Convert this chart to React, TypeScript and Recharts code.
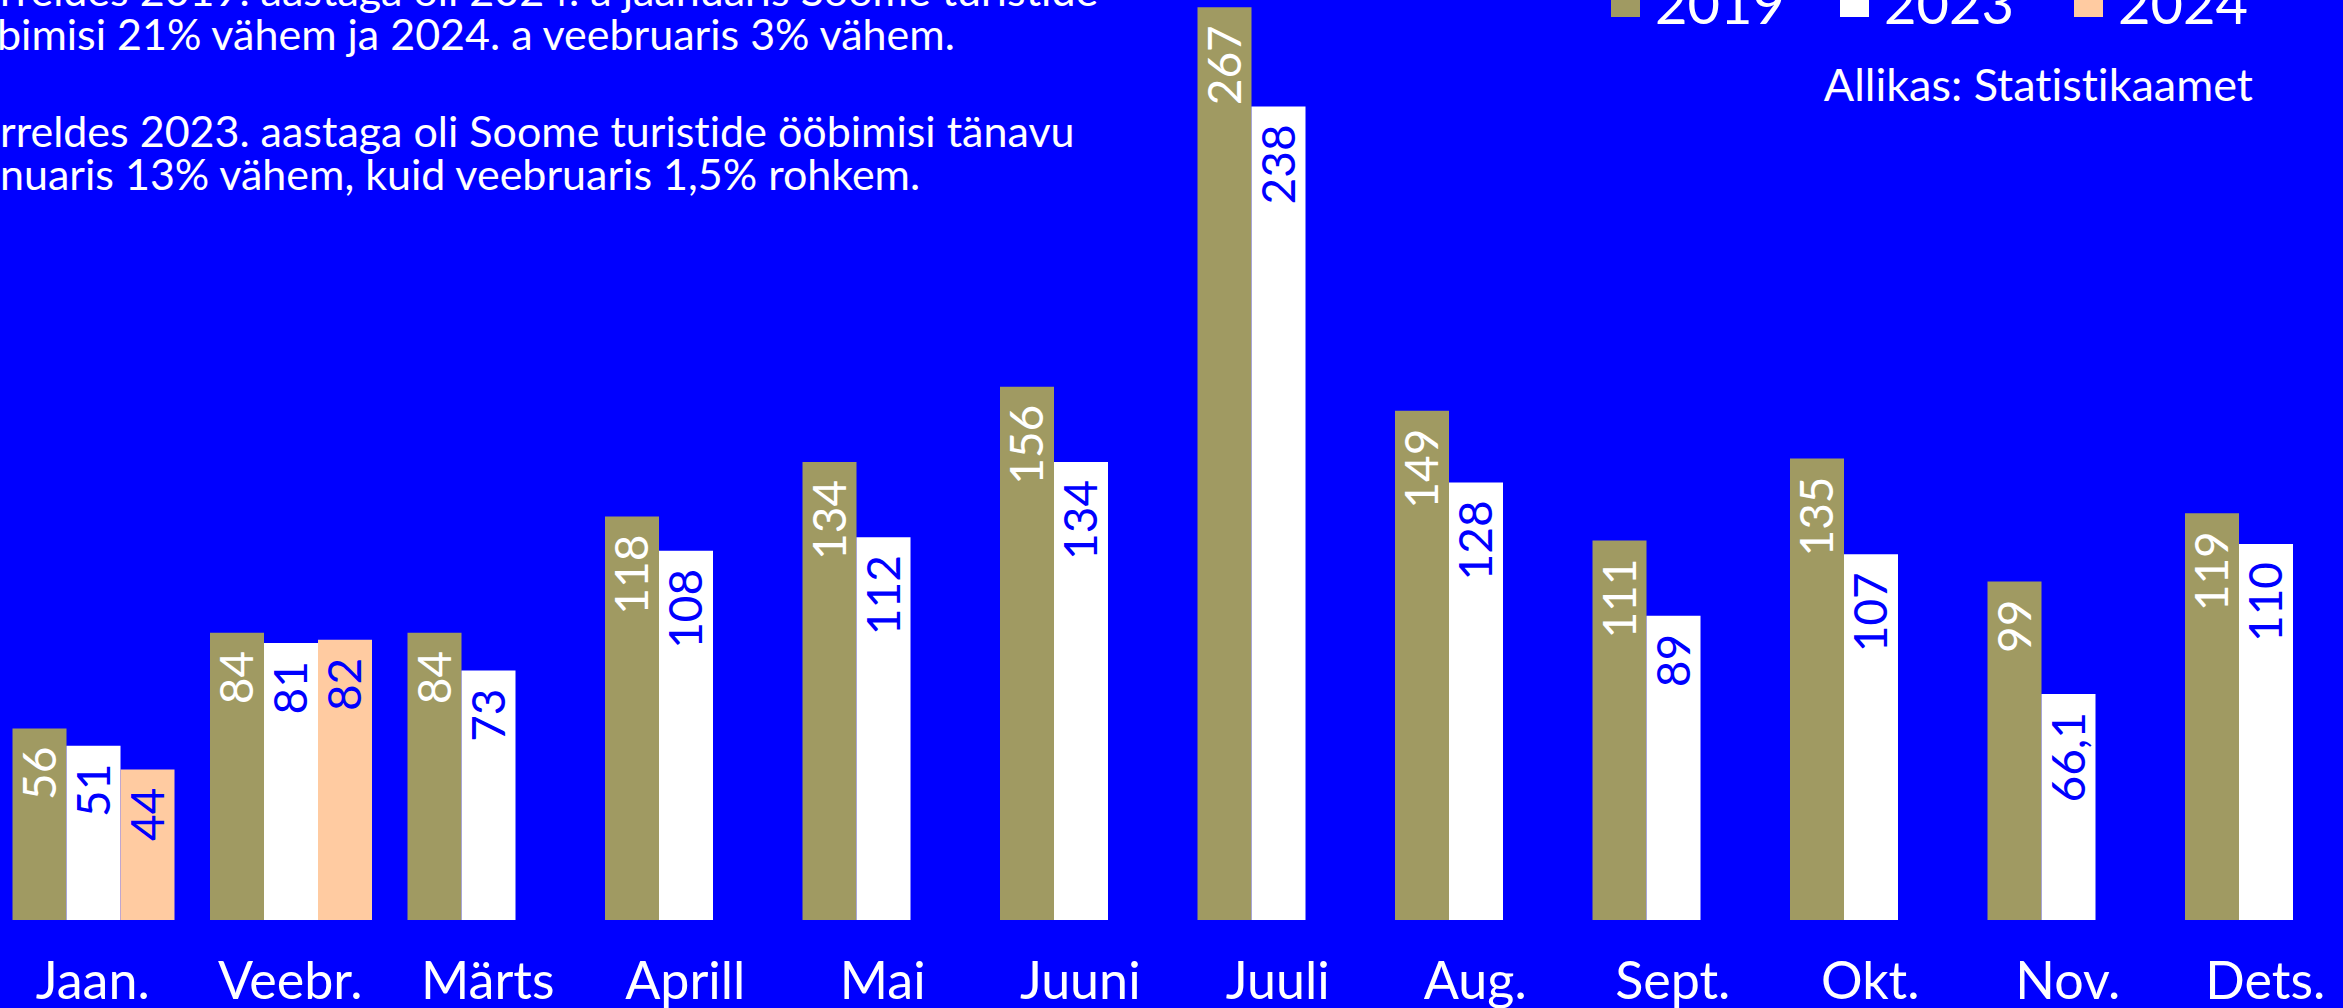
import { BarChart, Bar, XAxis, YAxis, LabelList, Legend } from 'recharts';

const MONTHS = ['Jaan.', 'Veebr.', 'Märts', 'Aprill', 'Mai', 'Juuni', 'Juuli', 'Aug.', 'Sept.', 'Okt.', 'Nov.', 'Dets.'];
const NIGHTS_2019 = [56, 84, 84, 118, 134, 156, 267, 149, 111, 135, 99, 119];
const NIGHTS_2023 = [51, 81, 73, 108, 112, 134, 238, 128, 89, 107, 66.1, 110];
const NIGHTS_2024 = [44, 82, null, null, null, null, null, null, null, null, null, null];

const SERIES = [
  { key: 'y2019', name: '2019', color: '#a09a62', labelColor: '#ffffff' },
  { key: 'y2023', name: '2023', color: '#ffffff', labelColor: '#0000ff' },
  { key: 'y2024', name: '2024', color: '#ffcba1', labelColor: '#0000ff' },
];

const NOTE_LINES = [
  'rreldes 2019. aastaga oli 2024. a jaanuaris Soome turistide',
  'bimisi 21% vähem ja 2024. a veebruaris 3% vähem.',
  'rreldes 2023. aastaga oli Soome turistide ööbimisi tänavu',
  'nuaris 13% vähem, kuid veebruaris 1,5% rohkem.',
];
const SOURCE = 'Allikas: Statistikaamet';

const data = MONTHS.map((m, i) => ({
  month: m,
  y2019: NIGHTS_2019[i],
  y2023: NIGHTS_2023[i],
  y2024: NIGHTS_2024[i],
}));

const FONT = 'Lato, "Open Sans", sans-serif';
const BG = '#0000ff';
const CHART_LEFT = -6.5;
const CHART_TOP = -3;

// layout of the text overlay (page coords)
const NOTE_Y = [6, 50, 147, 190];
const NOTE_X = [0, -3, 0, 0];
const LEGEND_X = [1611, 1840, 2074];

const fmt = (v: number) => String(v).replace('.', ',');

const makeLabel = (color: string) => (props: any) => {
  const { x, y, width, value } = props;
  if (value == null) return null;
  const cx = Number(x) + Number(width) / 2;
  const top = Number(y) + 18;
  return (
    <text
      transform={`translate(${cx},${top}) rotate(-90)`}
      x={0}
      y={16}
      textAnchor="end"
      fill={color}
      fontSize={46}
      fontFamily={FONT}
    >
      {fmt(value)}
    </text>
  );
};

const MonthTick = (props: any) => {
  const { x, y, payload } = props;
  return (
    <text x={x} y={y + 79} textAnchor="middle" fill="#ffffff" fontSize={52} fontFamily={FONT}>
      {payload.value}
    </text>
  );
};

const LegendContent = (props: any) => {
  const items = props.payload || [];
  return (
    <div style={{ position: 'absolute', left: 0, top: 0, width: 0, height: 0 }}>
      {items.map((item: any, i: number) => (
        <div
          key={item.value}
          style={{
            position: 'absolute',
            left: LEGEND_X[i] - CHART_LEFT,
            top: -12 - CHART_TOP,
            display: 'flex',
            alignItems: 'flex-start',
            whiteSpace: 'nowrap',
          }}
        >
          <div style={{ width: 29, height: 29, background: item.color }} />
          <span
            style={{
              marginLeft: 15,
              marginTop: -13,
              color: '#ffffff',
              fontFamily: FONT,
              fontSize: 56,
              lineHeight: '56px',
            }}
          >
            {item.value}
          </span>
        </div>
      ))}
    </div>
  );
};

export default function App() {
  return (
    <div
      style={{
        position: 'fixed',
        left: 0,
        top: 0,
        width: 2343,
        height: 1008,
        background: BG,
        overflow: 'hidden',
      }}
    >
      <div style={{ position: 'absolute', left: CHART_LEFT, top: CHART_TOP }}>
        <BarChart
          width={2370}
          height={1011}
          data={data}
          margin={{ top: 0, right: 0, bottom: 0, left: 0 }}
          barCategoryGap={18.5}
          barGap={0}
        >
          <XAxis
            dataKey="month"
            height={88}
            axisLine={false}
            tickLine={false}
            tickSize={0}
            tickMargin={0}
            interval={0}
            tick={<MonthTick />}
          />
          <YAxis hide domain={[0, 270]} allowDataOverflow />
          <Legend
            verticalAlign="middle"
            align="center"
            content={<LegendContent />}
            wrapperStyle={{ position: 'absolute', left: 0, top: 0, width: 0, height: 0 }}
          />
          {SERIES.map((s) => (
            <Bar key={s.key} dataKey={s.key} name={s.name} fill={s.color} isAnimationActive={false}>
              <LabelList dataKey={s.key} content={makeLabel(s.labelColor)} />
            </Bar>
          ))}
        </BarChart>
      </div>
      <svg
        width={2343}
        height={1008}
        style={{ position: 'absolute', left: 0, top: 0, pointerEvents: 'none', fontVariantLigatures: 'none' }}
      >
        {NOTE_LINES.map((line, i) => (
          <text key={i} x={NOTE_X[i]} y={NOTE_Y[i]} fill="#ffffff" fontSize={43} fontFamily={FONT}>
            {line}
          </text>
        ))}
        <text x={2253} y={101} textAnchor="end" fill="#ffffff" fontSize={45} fontFamily={FONT}>
          {SOURCE}
        </text>
      </svg>
    </div>
  );
}
